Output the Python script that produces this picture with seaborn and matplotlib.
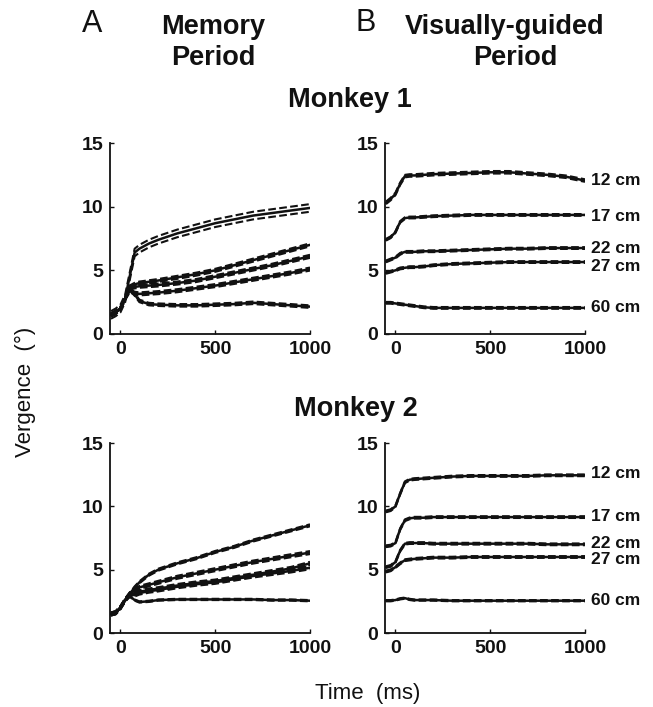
import numpy as np
import pandas as pd
import matplotlib
matplotlib.use("Agg")
import matplotlib.pyplot as plt
import seaborn as sns

# ---------------- data ----------------
time_ms = [-50, -25, 0, 25, 50, 75, 100, 150, 200, 300, 400, 500, 600, 700, 800, 900, 1000]
distances = ["12 cm", "17 cm", "22 cm", "27 cm", "60 cm"]

# Monkey 1, memory period
m1_mem_12 = [1.5, 1.7, 2.0, 2.8, 4.6, 6.4, 6.7, 7.1, 7.4, 7.9, 8.3, 8.7, 9.0, 9.3, 9.5, 9.7, 9.9]
m1_mem_17 = [1.5, 1.7, 2.0, 2.8, 3.7, 3.9, 4.0, 4.1, 4.2, 4.45, 4.7, 5.0, 5.4, 5.8, 6.2, 6.6, 7.0]
m1_mem_22 = [1.5, 1.7, 2.0, 2.8, 3.6, 3.7, 3.75, 3.8, 3.85, 4.0, 4.2, 4.5, 4.8, 5.1, 5.4, 5.75, 6.1]
m1_mem_27 = [1.5, 1.7, 2.0, 2.8, 3.4, 3.2, 3.15, 3.2, 3.25, 3.4, 3.6, 3.8, 4.05, 4.3, 4.55, 4.8, 5.1]
m1_mem_60 = [1.5, 1.7, 2.0, 2.8, 3.5, 3.1, 2.6, 2.35, 2.3, 2.25, 2.25, 2.3, 2.35, 2.45, 2.35, 2.25, 2.15]
m1_mem_se = [0.3, 0.12, 0.12, 0.12, 0.1]

# Monkey 1, visually-guided period
m1_vis_12 = [10.3, 10.6, 11.0, 11.8, 12.4, 12.45, 12.45, 12.5, 12.55, 12.6, 12.65, 12.7, 12.7, 12.6, 12.5, 12.35, 12.05]
m1_vis_17 = [7.4, 7.6, 8.0, 8.8, 9.1, 9.15, 9.15, 9.2, 9.25, 9.3, 9.35, 9.35, 9.35, 9.35, 9.35, 9.35, 9.35]
m1_vis_22 = [5.7, 5.85, 6.0, 6.3, 6.45, 6.45, 6.45, 6.5, 6.5, 6.55, 6.6, 6.65, 6.7, 6.7, 6.75, 6.75, 6.75]
m1_vis_27 = [4.8, 4.9, 5.0, 5.15, 5.2, 5.25, 5.25, 5.3, 5.4, 5.5, 5.55, 5.6, 5.65, 5.65, 5.65, 5.65, 5.65]
m1_vis_60 = [2.45, 2.45, 2.4, 2.35, 2.3, 2.25, 2.2, 2.1, 2.05, 2.05, 2.05, 2.05, 2.05, 2.05, 2.05, 2.05, 2.05]
m1_vis_se = [0.1, 0.07, 0.07, 0.07, 0.07]

# Monkey 2, memory period
m2_mem_12 = [1.5, 1.6, 2.0, 2.6, 3.1, 3.6, 4.0, 4.6, 5.0, 5.5, 5.9, 6.4, 6.8, 7.3, 7.7, 8.1, 8.5]
m2_mem_17 = [1.5, 1.6, 2.0, 2.6, 3.1, 3.35, 3.6, 3.8, 4.0, 4.4, 4.7, 5.0, 5.3, 5.6, 5.85, 6.1, 6.35]
m2_mem_22 = [1.5, 1.6, 2.0, 2.6, 3.1, 3.1, 3.25, 3.4, 3.5, 3.75, 3.95, 4.1, 4.35, 4.6, 4.85, 5.1, 5.5]
m2_mem_27 = [1.5, 1.6, 2.0, 2.6, 3.0, 3.0, 3.15, 3.3, 3.4, 3.65, 3.85, 4.0, 4.25, 4.5, 4.7, 4.9, 5.15]
m2_mem_60 = [1.5, 1.6, 2.0, 2.6, 2.9, 2.6, 2.45, 2.5, 2.6, 2.65, 2.65, 2.65, 2.65, 2.65, 2.6, 2.6, 2.55]
m2_mem_se = [0.08, 0.12, 0.12, 0.12, 0.05]

# Monkey 2, visually-guided period
m2_vis_12 = [9.6, 9.7, 10.0, 11.0, 11.9, 12.1, 12.15, 12.2, 12.25, 12.35, 12.4, 12.4, 12.4, 12.4, 12.45, 12.45, 12.45]
m2_vis_17 = [6.85, 6.9, 7.1, 8.2, 8.9, 9.05, 9.1, 9.1, 9.15, 9.15, 9.15, 9.15, 9.15, 9.15, 9.15, 9.15, 9.15]
m2_vis_22 = [5.2, 5.3, 5.6, 6.5, 7.05, 7.1, 7.1, 7.1, 7.05, 7.05, 7.05, 7.05, 7.05, 7.05, 7.0, 7.0, 7.0]
m2_vis_27 = [4.85, 4.95, 5.2, 5.5, 5.75, 5.8, 5.85, 5.9, 5.95, 5.95, 6.0, 6.0, 6.0, 6.0, 6.0, 6.0, 6.0]
m2_vis_60 = [2.55, 2.55, 2.6, 2.7, 2.75, 2.65, 2.6, 2.6, 2.6, 2.55, 2.55, 2.55, 2.55, 2.55, 2.55, 2.55, 2.55]
m2_vis_se = [0.07, 0.07, 0.07, 0.07, 0.05]

x_ticks = [0, 500, 1000]
y_ticks = [0, 5, 10, 15]

# label vertical nudges (visually-guided panels)
m1_label_nudge = [0.0, -0.15, 0.0, -0.35, 0.0]
m2_label_nudge = [0.15, 0.05, 0.1, -0.2, 0.0]

panels = [
    ([m1_mem_12, m1_mem_17, m1_mem_22, m1_mem_27, m1_mem_60], m1_mem_se, None),
    ([m1_vis_12, m1_vis_17, m1_vis_22, m1_vis_27, m1_vis_60], m1_vis_se, m1_label_nudge),
    ([m2_mem_12, m2_mem_17, m2_mem_22, m2_mem_27, m2_mem_60], m2_mem_se, None),
    ([m2_vis_12, m2_vis_17, m2_vis_22, m2_vis_27, m2_vis_60], m2_vis_se, m2_label_nudge),
]

# ---------------- style ----------------
sns.set_style("ticks")
plt.rcParams["font.family"] = ["Liberation Sans", "DejaVu Sans"]
plt.rcParams["text.color"] = "#111111"
plt.rcParams["axes.labelcolor"] = "#111111"
plt.rcParams["xtick.color"] = "#111111"
plt.rcParams["ytick.color"] = "#111111"

W, H = 653, 707
fig = plt.figure(figsize=(W / 100, H / 100), dpi=100)

def ax_rect(l, r, t, b):
    return [l / W, 1 - b / H, (r - l) / W, (b - t) / H]

rects = [
    ax_rect(110, 310, 143, 334),
    ax_rect(385, 585, 143, 334),
    ax_rect(110, 310, 443, 633),
    ax_rect(385, 585, 443, 633),
]

for rect, (curves, ses, nudge) in zip(rects, panels):
    ax = fig.add_axes(rect)
    rows = []
    for d, vals, se in zip(distances, curves, ses):
        for t, v in zip(time_ms, vals):
            rows.append(dict(time=t, value=v, dist=d, kind="mean"))
            rows.append(dict(time=t, value=v + se, dist=d, kind="upper"))
            rows.append(dict(time=t, value=v - se, dist=d, kind="lower"))
    df = pd.DataFrame(rows)
    df["unit"] = df["dist"] + df["kind"]
    sns.lineplot(data=df[df.kind != "mean"], x="time", y="value", units="unit",
                 estimator=None, color="#111111", lw=1.5, ax=ax, legend=False,
                 dashes=(3, 1.6), linestyle="--")
    sns.lineplot(data=df[df.kind == "mean"], x="time", y="value", units="dist",
                 estimator=None, color="#111111", lw=1.8, ax=ax, legend=False)
    ax.set_xlim(-55, 1000)
    ax.set_ylim(0, 15)
    ax.set_xticks(x_ticks)
    ax.set_yticks(y_ticks)
    ax.set_xlabel("")
    ax.set_ylabel("")
    sns.despine(ax=ax)
    for s in ["left", "bottom"]:
        ax.spines[s].set_linewidth(1.3)
        ax.spines[s].set_color("#111111")
    ax.tick_params(direction="in", length=3, width=1, labelsize=14, pad=5)
    for lab in ax.get_xticklabels() + ax.get_yticklabels():
        lab.set_fontweight("bold")
    ax.patch.set_alpha(0)
    if nudge is not None:
        for d, vals, nd in zip(distances, curves, nudge):
            ax.text(1030, vals[-1] + nd, d, ha="left", va="center",
                    fontsize=12.5, fontweight="bold", clip_on=False)

def ftext(x, y, s, **kw):
    fig.text(x / W, 1 - y / H, s, **kw)

ftext(92, 24, "A", fontsize=22, ha="center", va="center")
ftext(213, 27, "Memory", fontsize=19.5, fontweight="bold", ha="center", va="center")
ftext(213, 58, "Period", fontsize=19.5, fontweight="bold", ha="center", va="center")
ftext(366, 23, "B", fontsize=22, ha="center", va="center")
ftext(505, 27, "Visually-guided", fontsize=19.5, fontweight="bold", ha="center", va="center")
ftext(515, 58, "Period", fontsize=19.5, fontweight="bold", ha="center", va="center")
ftext(350, 100, "Monkey 1", fontsize=19.5, fontweight="bold", ha="center", va="center")
ftext(356, 409, "Monkey 2", fontsize=19.5, fontweight="bold", ha="center", va="center")
ftext(368, 694, "Time  (ms)", fontsize=16, ha="center", va="center")
ftext(25, 392, "Vergence  (°)", fontsize=16, ha="center", va="center", rotation=90)

fig.savefig("out.png", dpi=100, facecolor="white")
